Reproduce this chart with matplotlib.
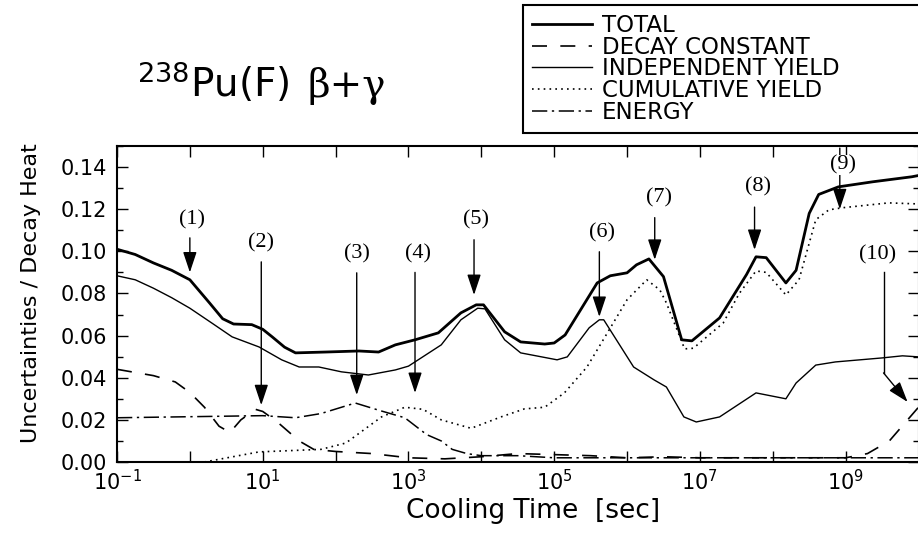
import numpy as np
import matplotlib
matplotlib.use("Agg")
import matplotlib.pyplot as plt
from matplotlib.ticker import MultipleLocator, NullLocator

# cooling time given as log10(t [sec]), values are relative uncertainty of decay heat
total_logt = np.array([-1.0, -0.75, -0.5, -0.25, 0.0, 0.27, 0.45, 0.6, 0.85, 1.0, 1.13, 1.3,
                       1.45, 1.86, 2.32, 2.59, 2.82, 3.09, 3.41, 3.72, 3.93, 4.03, 4.32, 4.54,
                       4.87, 5.0, 5.15, 5.59, 5.77, 6.0, 6.13, 6.3, 6.5, 6.75, 6.89, 7.27, 7.64,
                       7.77, 7.91, 8.18, 8.32, 8.50, 8.63, 8.90, 9.37, 9.91, 10.0])
total = np.array([0.101, 0.0985, 0.0945, 0.091, 0.0865, 0.0755, 0.068, 0.0655, 0.0652, 0.063,
                  0.0594, 0.0545, 0.0518, 0.0522, 0.0527, 0.0522, 0.0556, 0.058, 0.0613,
                  0.0708, 0.0746, 0.0746, 0.0618, 0.057, 0.056, 0.0565, 0.0603, 0.085, 0.0884,
                  0.0898, 0.0936, 0.0964, 0.088, 0.058, 0.0575, 0.0684, 0.089, 0.0974, 0.097,
                  0.085, 0.091, 0.118, 0.127, 0.1306, 0.133, 0.1354, 0.136])

decay_logt = np.array([-1.0, -0.5, -0.2, 0.0, 0.2, 0.4, 0.55, 0.7, 0.9, 1.0, 1.2, 1.5, 1.7,
                       2.0, 2.5, 3.0, 3.5, 4.0, 4.5, 5.0, 5.5, 6.0, 6.5, 7.0, 7.5, 8.0, 8.5,
                       9.0, 9.3, 9.6, 9.8, 10.0])
decay = np.array([0.044, 0.041, 0.038, 0.033, 0.026, 0.017, 0.014, 0.020, 0.025, 0.024, 0.019,
                  0.010, 0.006, 0.005, 0.004, 0.002, 0.0015, 0.0025, 0.004, 0.0035, 0.003,
                  0.002, 0.0025, 0.002, 0.002, 0.002, 0.002, 0.002, 0.004, 0.010, 0.018, 0.026])

indep_logt = np.array([-1.0, -0.75, -0.5, -0.25, 0.0, 0.3, 0.58, 0.95, 1.26, 1.5, 1.77, 2.08,
                       2.45, 2.82, 3.0, 3.45, 3.72, 3.95, 4.05, 4.32, 4.54, 5.04, 5.18, 5.48,
                       5.62, 5.68, 6.09, 6.37, 6.54, 6.78, 6.95, 7.27, 7.77, 8.18, 8.32, 8.59,
                       8.86, 9.5, 9.78, 10.0])
indep = np.array([0.0884, 0.0865, 0.0825, 0.078, 0.073, 0.066, 0.0594, 0.0546, 0.0485, 0.0451,
                  0.0451, 0.0428, 0.0413, 0.0437, 0.0455, 0.0556, 0.0675, 0.073, 0.0727, 0.058,
                  0.0518, 0.0485, 0.0499, 0.0637, 0.0675, 0.0675, 0.0451, 0.039, 0.0356, 0.0214,
                  0.019, 0.0214, 0.0328, 0.030, 0.0375, 0.046, 0.0475, 0.0494, 0.0504, 0.0499])

cumul_logt = np.array([0.2, 0.95, 1.8, 2.14, 2.63, 2.95, 3.2, 3.45, 3.86, 4.27, 4.59, 4.87,
                       5.14, 5.45, 5.73, 6.0, 6.27, 6.45, 6.54, 6.79, 6.91, 7.32, 7.54, 7.77,
                       7.91, 8.18, 8.36, 8.59, 8.77, 8.96, 9.59, 10.0])
cumul = np.array([0.0, 0.0048, 0.006, 0.009, 0.0214, 0.026, 0.025, 0.020, 0.016, 0.0214,
                  0.0252, 0.026, 0.0328, 0.0451, 0.0613, 0.077, 0.0865, 0.0817, 0.0755, 0.0537,
                  0.054, 0.066, 0.080, 0.0907, 0.090, 0.0793, 0.0865, 0.115, 0.1197, 0.1207,
                  0.123, 0.1225])

energy_logt = np.array([-1.0, 0.0, 1.0, 1.45, 1.8, 2.27, 2.6, 2.95, 3.25, 3.45, 3.6, 3.8, 4.0,
                        4.5, 5.0, 6.0, 7.0, 8.0, 9.0, 10.0])
energy = np.array([0.021, 0.0215, 0.022, 0.021, 0.023, 0.028, 0.0245, 0.021, 0.013, 0.010,
                   0.006, 0.004, 0.003, 0.003, 0.002, 0.002, 0.002, 0.002, 0.002, 0.002])

# numbered arrows: label position, arrow start and arrow tip (log10 t, value)
marker_names = ["(1)", "(2)", "(3)", "(4)", "(5)", "(6)", "(7)", "(8)", "(9)"]
marker_label = [(0.03, 0.115), (0.98, 0.104), (2.29, 0.099), (3.13, 0.0988), (3.93, 0.115),
                (5.66, 0.109), (6.44, 0.1254), (7.8, 0.1306), (8.97, 0.141)]
marker_from = [(0.0, 0.1064), (0.98, 0.095), (2.29, 0.0898), (3.09, 0.090), (3.9, 0.1055),
               (5.62, 0.0998), (6.38, 0.116), (7.75, 0.121), (8.92, 0.149)]
marker_to = [(0.0, 0.090), (0.98, 0.027), (2.29, 0.0318), (3.09, 0.0328), (3.9, 0.0793),
             (5.62, 0.0689), (6.38, 0.096), (7.75, 0.1007), (8.92, 0.120)]
# arrow (10) has a bend
bent_label = (9.44, 0.0983)
bent_path = [(9.52, 0.090), (9.52, 0.0423)]
bent_tip = (9.85, 0.0285)

xtick_exp = list(range(-1, 11))

fig = plt.figure(figsize=(9.18, 5.35), dpi=100)
ax = fig.add_axes([117 / 918, 73 / 535, (918.5 - 117) / 918, 316 / 535])

ax.plot(10 ** total_logt, total, color="black", lw=2.0, label="TOTAL")
ax.plot(10 ** decay_logt, decay, color="black", lw=1.2, linestyle=(0, (9, 8)),
        label="DECAY CONSTANT")
ax.plot(10 ** indep_logt, indep, color="black", lw=1.0, label="INDEPENDENT YIELD")
ax.plot(10 ** cumul_logt, cumul, color="black", lw=1.2, linestyle=(0, (1, 2.5)),
        label="CUMULATIVE YIELD")
ax.plot(10 ** energy_logt, energy, color="black", lw=1.1, linestyle=(0, (10, 3, 1.5, 3)),
        label="ENERGY")

serif = ["Liberation Serif", "DejaVu Serif"]
arrow_kw = dict(arrowstyle="-|>,head_length=0.9,head_width=0.3", color="black", lw=1.0,
                mutation_scale=14, shrinkA=0, shrinkB=0)
for name, lab, p0, p1 in zip(marker_names, marker_label, marker_from, marker_to):
    ax.annotate("", xy=(10 ** p1[0], p1[1]), xytext=(10 ** p0[0], p0[1]), arrowprops=arrow_kw)
    bbox = dict(facecolor="white", edgecolor="none", pad=0.5) if name == "(9)" else None
    ax.text(10 ** lab[0], lab[1], name, ha="center", va="center", fontsize=16, family=serif,
            bbox=bbox, zorder=5)

ax.text(10 ** bent_label[0], bent_label[1], "(10)", ha="center", va="center", fontsize=16,
        family=serif)
ax.plot([10 ** p[0] for p in bent_path], [p[1] for p in bent_path], color="black", lw=1.0)
ax.annotate("", xy=(10 ** bent_tip[0], bent_tip[1]),
            xytext=(10 ** bent_path[-1][0], bent_path[-1][1]), arrowprops=arrow_kw)

ax.set_xscale("log")
ax.set_xlim(10 ** -1, 10 ** 10)
ax.set_ylim(0, 0.15)
ax.set_xticks([10.0 ** k for k in xtick_exp])
ax.set_xticklabels([r"$10^{%d}$" % k if k % 2 else "" for k in xtick_exp])
ax.xaxis.set_minor_locator(NullLocator())
ax.set_yticks(np.arange(0, 0.141, 0.02))
ax.set_yticklabels(["%.2f" % v for v in np.arange(0, 0.141, 0.02)])
ax.yaxis.set_minor_locator(MultipleLocator(0.01))
ax.tick_params(which="both", direction="in", top=True, right=True, labelsize=15, width=1.0)
ax.tick_params(axis="x", which="major", length=8, pad=5)
ax.tick_params(axis="y", which="major", length=8, pad=7)
ax.tick_params(axis="y", which="minor", length=4)
for sp in ax.spines.values():
    sp.set_linewidth(1.5)

ax.set_xlabel("Cooling Time  [sec]", fontsize=19)
ax.xaxis.set_label_coords(0.519, -0.115)
ax.set_ylabel("Uncertainties / Decay Heat", fontsize=16)
ax.yaxis.set_label_coords(-0.095, 0.535)

fig.text(137 / 918, 1 - 97 / 535, r"$^{238}$Pu(F)", fontsize=28, va="baseline")
fig.text(308 / 918, 1 - 97 / 535, "β+γ", fontsize=28, va="baseline",
         family=["DejaVu Serif"])

handles, labels = ax.get_legend_handles_labels()
leg = fig.legend(handles, labels, loc="upper left",
                 bbox_to_anchor=(523 / 918, 1 - 128 / 535, (940 - 523) / 918, 123 / 535),
                 mode="expand", fontsize=16.5, frameon=True, fancybox=False,
                 edgecolor="black", framealpha=1, handlelength=2.6, handletextpad=0.45,
                 labelspacing=-0.06, borderpad=0.4, borderaxespad=0)
leg.get_frame().set_linewidth(1.5)

fig.savefig("out.png", dpi=100)
